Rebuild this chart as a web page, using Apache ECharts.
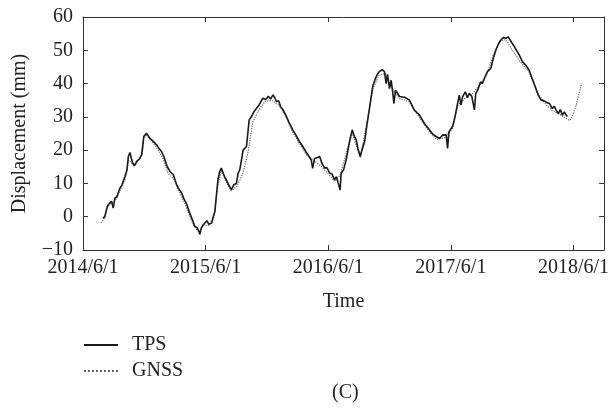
<!DOCTYPE html>
<html>
<head>
<meta charset="utf-8">
<script src="https://cdn.jsdelivr.net/npm/echarts@6/dist/echarts.min.js"></script>
<style>html,body{margin:0;padding:0;background:#fff}#c{width:612px;height:413px}</style>
</head>
<body>
<div id="c"></div>
<script>
// Dates of TPS samples and displacement values (mm)
var tpsDates = ['2014-07-30','2014-08-05','2014-08-11','2014-08-15','2014-08-25','2014-08-30','2014-09-04','2014-09-10','2014-09-19','2014-09-25','2014-10-04','2014-10-10','2014-10-14','2014-10-19','2014-10-23','2014-10-27','2014-11-01','2014-11-08','2014-11-15','2014-11-23','2014-11-26','2014-11-29','2014-12-07','2014-12-13','2014-12-20','2014-12-29','2015-01-06','2015-01-13','2015-01-21','2015-01-28','2015-02-06','2015-02-15','2015-02-25','2015-03-07','2015-03-12','2015-03-22','2015-03-28','2015-04-05','2015-04-15','2015-04-24','2015-04-30','2015-05-06','2015-05-12','2015-05-15','2015-05-19','2015-05-24','2015-05-30','2015-06-05','2015-06-11','2015-06-19','2015-06-24','2015-06-29','2015-07-03','2015-07-08','2015-07-13','2015-07-18','2015-07-24','2015-07-28','2015-08-07','2015-08-12','2015-08-17','2015-08-24','2015-09-01','2015-09-06','2015-09-11','2015-09-21','2015-10-01','2015-10-09','2015-10-16','2015-10-23','2015-10-31','2015-11-07','2015-11-12','2015-11-19','2015-11-27','2015-12-05','2015-12-12','2015-12-19','2015-12-24','2015-12-29','2016-01-05','2016-01-11','2016-01-18','2016-01-26','2016-02-04','2016-02-16','2016-02-27','2016-03-07','2016-03-17','2016-03-28','2016-04-11','2016-04-15','2016-04-21','2016-04-30','2016-05-06','2016-05-13','2016-05-21','2016-05-27','2016-06-05','2016-06-12','2016-06-19','2016-06-25','2016-07-01','2016-07-06','2016-07-09','2016-07-16','2016-07-24','2016-07-31','2016-08-06','2016-08-11','2016-08-16','2016-08-23','2016-08-28','2016-09-04','2016-09-09','2016-09-17','2016-09-23','2016-09-29','2016-10-05','2016-10-11','2016-10-19','2016-10-25','2016-10-31','2016-11-08','2016-11-15','2016-11-20','2016-11-24','2016-11-30','2016-12-05','2016-12-10','2016-12-13','2016-12-18','2016-12-30','2017-01-14','2017-01-28','2017-02-12','2017-02-27','2017-03-14','2017-03-29','2017-04-08','2017-04-18','2017-04-28','2017-05-07','2017-05-18','2017-05-22','2017-05-26','2017-06-06','2017-06-13','2017-06-21','2017-06-26','2017-07-01','2017-07-06','2017-07-14','2017-07-20','2017-07-26','2017-08-02','2017-08-10','2017-08-14','2017-08-20','2017-08-28','2017-09-03','2017-09-09','2017-09-17','2017-09-28','2017-10-05','2017-10-13','2017-10-20','2017-10-28','2017-11-04','2017-11-12','2017-11-19','2017-11-28','2017-12-07','2017-12-16','2017-12-22','2017-12-31','2018-01-10','2018-01-20','2018-01-29','2018-02-09','2018-02-16','2018-02-24','2018-03-06','2018-03-15','2018-03-21','2018-03-30','2018-04-05','2018-04-10','2018-04-17','2018-04-23','2018-04-29','2018-05-05','2018-05-10','2018-05-14'];
var tpsValues = [-0.4,0.0,2.5,3.6,4.6,2.6,5.6,6.0,8.6,9.5,12.1,14.0,18.1,19.3,17.5,16.1,15.3,16.6,17.2,18.6,21.0,24.1,25.1,24.2,23.3,22.5,21.6,20.6,19.6,18.0,15.3,13.6,12.6,9.6,8.6,7.1,5.5,4.0,1.1,-1.2,-2.9,-3.2,-4.3,-5.3,-3.5,-2.6,-1.9,-1.2,-2.3,-1.9,0.0,1.6,6.0,11.1,13.5,14.6,13.0,12.0,10.0,9.5,8.1,9.6,10.0,13.0,14.1,20.0,21.1,29.1,30.1,31.5,32.6,33.5,33.2,35.6,35.2,36.2,35.4,36.6,35.8,34.6,34.8,33.0,32.1,30.5,28.5,26.1,24.2,22.5,21.1,19.2,17.1,14.5,17.5,17.8,18.1,16.0,14.6,14.8,13.1,12.8,11.1,12.0,9.8,8.0,13.1,14.0,17.1,21.0,24.0,26.1,24.5,23.1,20.5,18.1,20.0,22.6,27.0,31.0,35.0,39.1,41.5,42.8,43.6,44.2,43.6,40.0,42.8,38.5,41.0,37.1,34.0,38.0,36.1,35.9,35.1,32.0,30.6,28.0,26.1,24.8,24.1,23.5,24.5,24.6,20.5,25.5,27.1,30.0,34.1,36.5,33.5,36.1,37.5,35.8,37.1,36.2,32.1,37.0,38.1,40.5,40.0,41.6,43.5,44.6,47.5,50.1,51.8,53.1,53.8,53.6,54.0,52.5,51.1,49.5,48.5,46.6,45.5,44.1,41.5,38.6,36.5,35.1,34.8,34.2,34.1,32.5,33.2,32.1,31.0,32.2,30.5,31.5,30.6,30.1];

// GNSS samples
var gnssDates = ['2014-07-24','2014-08-02','2014-08-12','2014-08-26','2014-09-06','2014-09-20','2014-10-05','2014-10-15','2014-10-25','2014-11-05','2014-11-20','2014-11-28','2014-12-08','2014-12-22','2015-01-08','2015-01-25','2015-02-10','2015-02-28','2015-03-15','2015-04-01','2015-04-18','2015-05-02','2015-05-14','2015-05-26','2015-06-10','2015-06-25','2015-07-08','2015-07-18','2015-08-01','2015-08-17','2015-09-03','2015-09-20','2015-10-05','2015-10-20','2015-11-05','2015-11-25','2015-12-15','2016-01-05','2016-01-25','2016-02-15','2016-03-07','2016-03-28','2016-04-20','2016-05-10','2016-06-01','2016-06-20','2016-07-06','2016-07-25','2016-08-11','2016-09-04','2016-09-25','2016-10-12','2016-10-30','2016-11-18','2016-12-08','2016-12-30','2017-01-28','2017-02-27','2017-03-29','2017-04-20','2017-05-15','2017-06-06','2017-06-22','2017-07-15','2017-08-05','2017-08-25','2017-09-15','2017-10-05','2017-10-25','2017-11-12','2017-12-01','2017-12-25','2018-01-20','2018-02-12','2018-03-06','2018-03-28','2018-04-20','2018-05-10','2018-05-21','2018-05-28','2018-06-08','2018-06-18','2018-06-26'];
var gnssValues = [-1.8,-0.8,3.0,4.2,5.0,8.0,11.5,17.0,16.0,15.8,18.0,23.5,24.5,22.8,20.6,17.5,13.0,11.0,7.6,3.8,-0.6,-3.6,-4.6,-2.5,-2.6,-0.6,9.5,13.8,10.5,7.8,9.2,13.0,19.0,28.5,31.8,34.6,35.0,33.5,30.5,25.5,22.0,18.5,16.8,15.2,12.8,10.6,12.5,19.5,25.2,17.8,29.0,38.5,42.5,43.0,38.5,35.5,34.5,29.8,25.5,23.2,23.8,26.5,33.5,35.8,37.0,39.5,42.5,48.5,52.8,53.2,50.0,46.5,43.5,37.5,34.2,32.0,30.8,29.6,28.9,30.0,33.1,37.1,40.1];

var xTickYears = [0,1,2,3,4];
var baseYear = 2014;
var yMin = -10, yMax = 60, yStep = 10;

var t0 = Date.UTC(2014,5,1);
function toYears(d){var p=d.split('-');return (Date.UTC(+p[0],+p[1]-1,+p[2])-t0)/(365.25*86400000);}
function pairs(ds,vs){return ds.map(function(d,i){return [toYears(d),vs[i]];});}

var FONT = 'Liberation Serif';
var FS = 20;
var axisCol = '#333';
var chart = echarts.init(document.getElementById('c'), null, {renderer:'canvas'});
var commonX = {
  type:'value', min:0, max:4.25, interval:1,
  axisLine:{show:true,onZero:false,lineStyle:{color:axisCol,width:1}},
  axisTick:{show:true,inside:true,length:5,lineStyle:{color:axisCol}},
  splitLine:{show:false}
};
var commonY = {
  type:'value', min:yMin, max:yMax, interval:yStep,
  axisLine:{show:true,onZero:false,lineStyle:{color:axisCol,width:1}},
  axisTick:{show:true,inside:true,length:5,lineStyle:{color:axisCol}},
  splitLine:{show:false}
};
chart.setOption({
  animation:false,
  backgroundColor:'#fff',
  grid:{left:83,right:7,top:17,bottom:163,containLabel:false},
  legend:{
    orient:'vertical', left:78, top:330, itemWidth:34, itemHeight:12, itemGap:6,
    itemStyle:{opacity:0,borderWidth:0,color:'rgba(0,0,0,0)'},
    textStyle:{fontFamily:FONT,fontSize:FS,color:'#222',padding:[0,0,0,9]},
    data:['TPS','GNSS']
  },
  xAxis:[
    Object.assign({}, commonX, {
      position:'bottom',
      name:'Time', nameLocation:'middle', nameGap:42,
      nameTextStyle:{fontFamily:FONT,fontSize:FS,color:'#222'},
      axisLabel:{fontFamily:FONT,fontSize:FS,color:'#222',margin:8,
        formatter:function(v){return (baseYear+Math.round(v))+'/6/1';},
        customValues:xTickYears}
    }),
    Object.assign({}, commonX, {position:'top',axisLabel:{show:false}})
  ],
  yAxis:[
    Object.assign({}, commonY, {
      position:'left',
      name:'Displacement (mm)', nameLocation:'middle', nameGap:53, nameRotate:90,
      nameTextStyle:{fontFamily:FONT,fontSize:FS,color:'#222'},
      axisLabel:{fontFamily:FONT,fontSize:FS,color:'#222',margin:10,
        formatter:function(v){return String(v).replace('-','\u2212');}}
    }),
    Object.assign({}, commonY, {position:'right',axisLabel:{show:false}})
  ],
  graphic:[{type:'text',left:332,top:383,style:{text:'(C)',font:FS+'px "Liberation Serif"',fill:'#222'}}],
  series:[
    {name:'GNSS',type:'line',xAxisIndex:0,yAxisIndex:0,symbol:'none',
     data:pairs(gnssDates,gnssValues),
     lineStyle:{color:'#666',width:1.2,type:'dotted'},itemStyle:{color:'#666'},z:1},
    {name:'TPS',type:'line',xAxisIndex:0,yAxisIndex:0,symbol:'none',
     data:pairs(tpsDates,tpsValues),
     lineStyle:{color:'#1a1a1a',width:1.6},itemStyle:{color:'#1a1a1a'},z:2}
  ]
});
</script>
</body>
</html>
